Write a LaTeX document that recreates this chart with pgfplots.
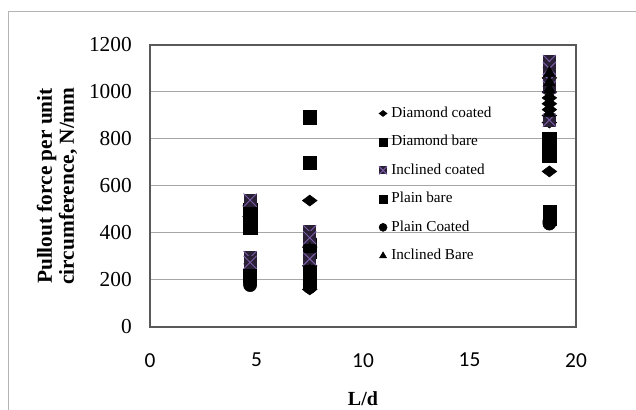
\documentclass[border=0pt]{standalone}
\usepackage{fontspec}
\setmainfont{Liberation Serif}
\newfontfamily\carlito{Carlito}
\usepackage{pgfplots}
\pgfplotsset{compat=1.18}
\definecolor{framegray}{HTML}{B4B4B4}
\definecolor{gridgray}{HTML}{A6A6A6}
\definecolor{axisgray}{HTML}{595959}
\definecolor{incfill}{HTML}{2A2035}
\definecolor{incx}{HTML}{7C5EA8}
\pgfdeclareplotmark{sqx}{%
  \pgfpathrectangle{\pgfqpoint{-\pgfplotmarksize}{-\pgfplotmarksize}}{\pgfqpoint{2\pgfplotmarksize}{2\pgfplotmarksize}}%
  \pgfsetfillcolor{incfill}\pgfusepath{fill}%
  \pgfsetlinewidth{0.7pt}%
  \pgfpathmoveto{\pgfqpoint{-\pgfplotmarksize}{-\pgfplotmarksize}}\pgfpathlineto{\pgfqpoint{\pgfplotmarksize}{\pgfplotmarksize}}%
  \pgfpathmoveto{\pgfqpoint{-\pgfplotmarksize}{\pgfplotmarksize}}\pgfpathlineto{\pgfqpoint{\pgfplotmarksize}{-\pgfplotmarksize}}%
  \pgfsetstrokecolor{incx}\pgfusepath{stroke}%
}
\begin{document}
\begin{tikzpicture}
\useasboundingbox (0,0) rectangle (477pt,307.5pt);
\draw[color=framegray, line width=0.75pt] (6pt,-2pt) -- (6pt,298.5pt) -- (480pt,298.5pt);
\begin{axis}[
  at={(112.5pt,62.25pt)}, anchor=south west,
  scale only axis, width=319.5pt, height=211.5pt,
  xmin=0, xmax=20, ymin=0, ymax=1200,
  xtick={0,5,10,15,20}, ytick={0,200,400,600,800,1000,1200},
  ymajorgrids, grid style={color=gridgray, line width=0.75pt},
  axis line style={color=axisgray, line width=1pt},
  major tick length=0pt,
  /pgf/number format/assume math mode=true,
  /pgf/number format/1000 sep={},
  yticklabel style={font=\fontsize{16}{18}\selectfont, inner sep=0pt, anchor=east, xshift=-13.5pt},
  xticklabel style={font=\carlito\fontsize{16}{18}\selectfont, inner sep=0pt, anchor=north, yshift=-19.5pt},
  xlabel={L/d},
  xlabel style={at={(axis description cs:0.5,-0.255)}, anchor=center, font=\fontsize{15}{17}\selectfont\bfseries},
  ylabel={Pullout force per unit\\circumference, N/mm},
  ylabel style={at={(axis description cs:-0.218,0.5)}, anchor=center, align=center, font=\fontsize{16}{16.5}\selectfont\bfseries},
  legend style={at={(axis description cs:0.536,0.79)}, anchor=north west, draw=none, fill=none,
    font=\fontsize{11.4}{13}\selectfont, row sep=7.85pt, column sep=0pt, inner sep=0pt,
    nodes={inner sep=1.5pt, text height=8pt, text depth=2.5pt}},
  legend cell align=left,
  legend image code/.code={\draw[#1, mark size=3pt] plot coordinates {(0pt,0pt)}; \path (4.5pt,0pt);},
]
\addplot[only marks, mark=diamond*, mark size=5.5pt, mark options={rotate=90, fill=black, draw=black}] coordinates {
(4.7,515) (4.7,470) (7.5,538) (7.5,340) (7.5,260) (7.5,160)
(18.75,1060) (18.75,1000) (18.75,975) (18.75,950) (18.75,925) (18.75,900) (18.75,870) (18.75,662)};
\addlegendentry{Diamond coated}
\addplot[only marks, mark=square*, mark size=5pt, mark options={fill=black, draw=black}] coordinates {
(4.7,500) (4.7,450) (4.7,425) (7.5,892) (7.5,700) (7.5,350) (7.5,320)
(18.75,800) (18.75,780) (18.75,760) (18.75,740) (18.75,730)};
\addlegendentry{Diamond bare}
\addplot[only marks, mark=sqx, mark size=4.9pt] coordinates {
(4.7,540) (4.7,295) (4.7,275) (7.5,405) (7.5,380) (7.5,290)
(18.75,1130) (18.75,1100) (18.75,1050) (18.75,1020) (18.75,880)};
\addlegendentry{Inclined coated}
\addplot[only marks, mark=square*, mark size=4.8pt, mark options={fill=black, draw=black}] coordinates {
(4.7,218) (7.5,230) (7.5,210) (7.5,190)
(18.75,490) (18.75,475) (18.75,460)};
\addlegendentry{Plain bare}
\addplot[only marks, mark=*, mark size=4.9pt, mark options={fill=black, draw=black}] coordinates {
(4.7,185) (4.7,178) (7.5,200) (7.5,180) (7.5,170)
(18.75,450) (18.75,440)};
\addlegendentry{Plain Coated}
\addplot[only marks, mark=triangle*, mark size=5pt, mark options={fill=black, draw=black}] coordinates {
(4.7,430) (7.5,330) (7.5,240)
(18.75,1080) (18.75,1040) (18.75,1010) (18.75,985) (18.75,960) (18.75,935) (18.75,910)};
\addlegendentry{Inclined Bare}
\end{axis}
\end{tikzpicture}
\end{document}
